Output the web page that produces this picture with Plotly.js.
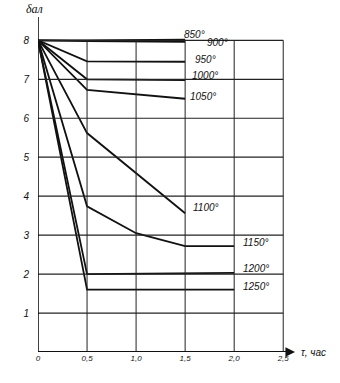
<!DOCTYPE html>
<html><head><meta charset="utf-8">
<script src="https://cdn.plot.ly/plotly-3.0.1.min.js"></script>
<style>html,body{margin:0;padding:0;background:#fff}#c{width:340px;height:383px}</style>
</head><body><div id="c"></div>
<script>
// Data (time, h -> value, points)
const t850 = [0, 0.5, 1.5];  const v850 = [8.0, 8.0, 8.02];
const t900 = [0, 0.5, 1.5];  const v900 = [8.0, 7.98, 7.96];
const t950 = [0, 0.5, 1.5];  const v950 = [8.0, 7.46, 7.45];
const t1000 = [0, 0.5, 1.5]; const v1000 = [8.0, 7.0, 6.98];
const t1050 = [0, 0.5, 1.5]; const v1050 = [8.0, 6.73, 6.5];
const t1100 = [0, 0.5, 1.5]; const v1100 = [8.0, 5.62, 3.56];
const t1150 = [0, 0.5, 1.0, 1.5, 2.0]; const v1150 = [8.0, 3.74, 3.05, 2.72, 2.72];
const t1200 = [0, 0.5, 2.0]; const v1200 = [8.0, 2.0, 2.03];
const t1250 = [0, 0.5, 2.0]; const v1250 = [8.0, 1.6, 1.6];
const seriesNames = ['850°','900°','950°','1000°','1050°','1100°','1150°','1200°','1250°'];
const labelX = [1.47, 1.7, 1.58, 1.55, 1.53, 1.56, 2.07, 2.07, 2.07];
const labelY = [8.14, 7.95, 7.5, 7.1, 6.56, 3.72, 2.82, 2.14, 1.68];
const xTicks = [0, 0.5, 1.0, 1.5, 2.0, 2.5];
const xTickText = ['0', '0,5', '1,0', '1,5', '2,0', '2,5'];
const yTicks = [1, 2, 3, 4, 5, 6, 7, 8];

const T = [t850,t900,t950,t1000,t1050,t1100,t1150,t1200,t1250];
const V = [v850,v900,v950,v1000,v1050,v1100,v1150,v1200,v1250];
const traces = T.map((t,i)=>({x:t,y:V[i],type:'scatter',mode:'lines',name:seriesNames[i],
  line:{color:'#111',width:1.8},hoverinfo:'skip'}));

const xMax = xTicks[xTicks.length-1], yMax = yTicks[yTicks.length-1];
const xEnd = 2.6, yEnd = 8.6;
const shapes = [];
xTicks.slice(1).forEach(x=>shapes.push({type:'line',xref:'x',yref:'y',x0:x,x1:x,y0:0,y1:yMax,line:{color:'#222',width:1}}));
yTicks.forEach(y=>shapes.push({type:'line',xref:'x',yref:'y',x0:0,x1:xMax,y0:y,y1:y,line:{color:'#222',width:1.2}}));
// axes
shapes.push({type:'line',xref:'x',yref:'y',x0:0,x1:xEnd,y0:0,y1:0,line:{color:'#111',width:2}});
shapes.push({type:'line',xref:'x',yref:'y',x0:0,x1:0,y0:0,y1:yEnd,line:{color:'#111',width:1.6}});

const lf = {family:'Liberation Sans, Arial, sans-serif',size:10,color:'#111',style:'italic'};
const annotations = seriesNames.map((n,i)=>({x:labelX[i],y:labelY[i],xref:'x',yref:'y',text:n,showarrow:false,
  xanchor:'left',yanchor:'middle',font:lf}));
// axis arrowheads
annotations.push({x:xEnd,y:0,ax:-10,ay:0,xshift:2,xref:'x',yref:'y',showarrow:true,arrowhead:2,arrowsize:1.2,arrowwidth:1.6,arrowcolor:'#111',text:' '});
annotations.push({x:0,y:yEnd,ax:0,ay:10,yshift:2,xref:'x',yref:'y',showarrow:true,arrowhead:2,arrowsize:1.2,arrowwidth:1.4,arrowcolor:'#111',text:' '});
annotations.push({x:xEnd,y:0,xshift:6,xref:'x',yref:'y',text:'τ, час',showarrow:false,xanchor:'left',yanchor:'middle',font:lf});
annotations.push({x:0,y:yEnd,yshift:8,xshift:-4,xref:'x',yref:'y',text:'δал',showarrow:false,xanchor:'center',yanchor:'middle',
  font:{family:'Liberation Serif, serif',size:12,color:'#111',style:'italic'}});

const layout = {
  width:340,height:383,showlegend:false,
  paper_bgcolor:'#fff',plot_bgcolor:'#fff',
  margin:{l:38,r:45,t:15,b:31},
  xaxis:{range:[0,2.62],tickvals:xTicks,ticktext:xTickText,showgrid:false,zeroline:false,showline:false,
    ticks:'',tickfont:{family:'Liberation Sans, Arial, sans-serif',size:8,color:'#111',style:'italic'},fixedrange:true},
  yaxis:{range:[0,8.65],tickvals:yTicks,showgrid:false,zeroline:false,showline:false,ticks:'',
    tickfont:{family:'Liberation Sans, Arial, sans-serif',size:10,color:'#111',style:'italic'},ticklabelstandoff:8,fixedrange:true},
  shapes:shapes,annotations:annotations
};
Plotly.newPlot('c',traces,layout,{displayModeBar:false,staticPlot:true});
</script></body></html>
